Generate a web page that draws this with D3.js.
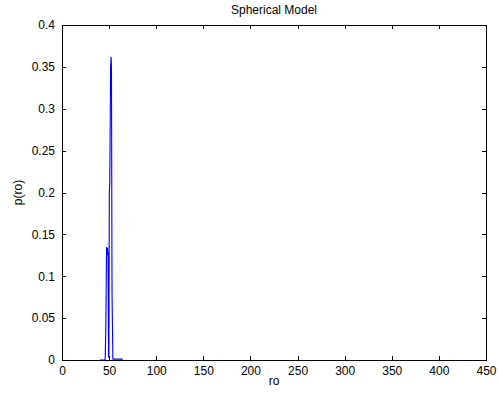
<!DOCTYPE html>
<html><head><meta charset="utf-8">
<script src="https://cdn.jsdelivr.net/npm/d3@7"></script>
<style>body{margin:0;background:#fff}svg{display:block}text{font-family:"Liberation Sans",Arial,sans-serif;fill:#000}</style>
</head><body><svg id="c" width="498" height="394"></svg>
<script>
const ro = [40, 45.8, 46.5, 47.3, 47.8, 48.3, 48.8, 49.4, 49.8, 50.2, 50.7, 51.6, 52.1, 52.5, 53.1, 54.0, 63.5, 64.0];
const p  = [0, 0, 0.038, 0.135, 0.125, 0.134, 0.127, 0.003, 0.007, 0.2, 0.211, 0.35, 0.362, 0.35, 0.08, 0.001, 0.001, 0];
const xTicks = [0, 50, 100, 150, 200, 250, 300, 350, 400, 450];
const yTicks = [0, 0.05, 0.1, 0.15, 0.2, 0.25, 0.3, 0.35, 0.4];
const title = "Spherical Model", xLabel = "ro", yLabel = "p(ro)";

const svg = d3.select("#c");
const L = 62, R = 486, T = 25, B = 360;
const FS = 12;
const x = d3.scaleLinear().domain([0, 450]).range([L, R]);
const y = d3.scaleLinear().domain([0, 0.4]).range([B, T]);

svg.append("rect").attr("x", L).attr("y", T).attr("width", R - L).attr("height", B - T)
  .attr("fill", "#fff").attr("stroke", "#000").attr("stroke-width", 1).attr("shape-rendering", "crispEdges");

const fmt = d => d === 0 ? "0" : String(+d.toFixed(2));
const styleAx = g => { g.select(".domain").remove(); g.selectAll("text").attr("font-size", FS).style("font-family", '"Liberation Sans",Arial,sans-serif').attr("fill", "#000"); g.selectAll("line").attr("stroke", "#000").attr("shape-rendering", "crispEdges"); };

svg.append("g").attr("transform", `translate(0,${B})`)
  .call(d3.axisBottom(x).tickValues(xTicks).tickSizeInner(-4).tickSizeOuter(0).tickPadding(6).tickFormat(d3.format("d")))
  .call(styleAx);
svg.append("g").attr("transform", `translate(0,${T})`)
  .call(d3.axisTop(x).tickValues(xTicks).tickSizeInner(-4).tickSizeOuter(0).tickFormat(""))
  .call(styleAx);
svg.append("g").attr("transform", `translate(${L},0)`)
  .call(d3.axisLeft(y).tickValues(yTicks).tickSizeInner(-4).tickSizeOuter(0).tickPadding(7).tickFormat(fmt))
  .call(styleAx);
svg.append("g").attr("transform", `translate(${R},0)`)
  .call(d3.axisRight(y).tickValues(yTicks).tickSizeInner(-4).tickSizeOuter(0).tickFormat(""))
  .call(styleAx);

const data = ro.map((r, i) => [r, p[i]]);
svg.append("path").datum(data)
  .attr("fill", "none").attr("stroke", "#0000ff").attr("stroke-width", 1.1)
  .attr("d", d3.line().x(d => x(d[0])).y(d => y(d[1])));

svg.append("text").attr("x", (L + R) / 2).attr("y", 14).attr("text-anchor", "middle").attr("font-size", FS).text(title);
svg.append("text").attr("x", (L + R) / 2).attr("y", 385).attr("text-anchor", "middle").attr("font-size", FS).text(xLabel);
svg.append("text").attr("transform", `translate(22,${(T + B) / 2}) rotate(-90)`).attr("text-anchor", "middle").attr("font-size", FS).text(yLabel);
</script></body></html>
